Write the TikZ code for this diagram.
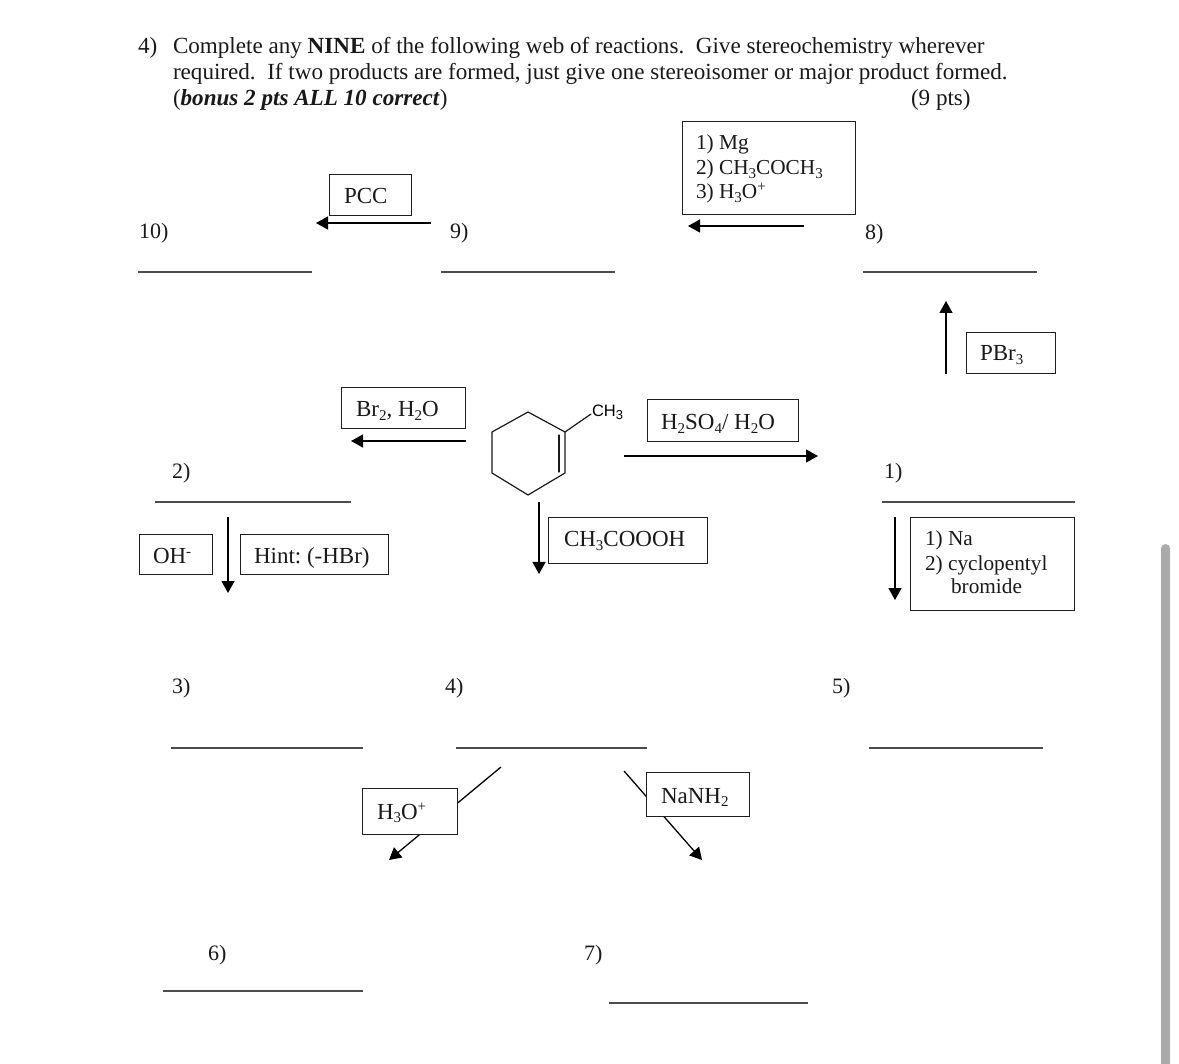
\documentclass[tikz,border=0pt]{standalone}
\usepackage{fontspec}
\setmainfont{Liberation Serif}
\newfontfamily\arialf{Liberation Sans}
\usetikzlibrary{arrows.meta}
\newcommand{\sbs}[1]{\raisebox{-3.5pt}{\fontsize{15}{15}\selectfont #1}}
\newcommand{\sps}[1]{\raisebox{7.5pt}{\fontsize{15}{15}\selectfont #1}}
\tikzset{
  x=1pt,y=-1pt,
  txt/.style={anchor=base west,inner sep=0pt,outer sep=0pt,font=\fontsize{23.1}{26}\selectfont\frenchspacing,text=black!90},
  rtxt/.style={txt,font=\fontsize{23}{24}\selectfont\frenchspacing},
  mtxt/.style={txt,font=\fontsize{21.3}{24}\selectfont\frenchspacing},
  ntxt/.style={txt,font=\fontsize{22}{24}\selectfont\frenchspacing},
  ans/.style={draw=black!70,line width=1.2pt},
  box/.style={draw=black!88,line width=1.2pt,fill=white,inner sep=0pt,outer sep=0pt,anchor=north west},
  arr/.style={draw=black,line width=1.3pt,-{Triangle[length=12pt,width=13pt]}},
  bond/.style={draw=black!90,line width=1.2pt,line cap=round,line join=round},
}
\begin{document}
\begin{tikzpicture}
\useasboundingbox (0,0) rectangle (1179,1064);
% scrollbar
\fill[black!33,rounded corners=4.5pt] (1161,1075) rectangle (1170,544);
% heading
\node[txt] (hA) at (138,54) {4)};
\node[txt] (hB) at (173,54) {Complete any \textbf{NINE} of the following web of reactions.\ \ Give stereochemistry wherever};
\node[txt] (hC) at (173,80) {required.\ \ If two products are formed, just give one stereoisomer or major product formed.};
\node[txt] (hD) at (173,106) {(\textbf{\textit{bonus 2 pts ALL 10 correct}})};
\node[txt] (hE) at (911,106) {(9 pts)};
% arrows (behind boxes)
\coordinate (a1s) at (431,223); \coordinate (a1e) at (316,223);
\coordinate (a2s) at (804,226); \coordinate (a2e) at (688,226);
\coordinate (a3s) at (946,374); \coordinate (a3e) at (946,301);
\coordinate (a4s) at (466,441); \coordinate (a4e) at (351,441);
\coordinate (a5s) at (624,456); \coordinate (a5e) at (818,456);
\coordinate (a6s) at (539,502); \coordinate (a6e) at (539,574);
\coordinate (a7s) at (228,517); \coordinate (a7e) at (228,593);
\coordinate (a8s) at (895,517); \coordinate (a8e) at (895,600);
\coordinate (a9s) at (501,767); \coordinate (a9e) at (389,860);
\coordinate (a10s) at (624,771); \coordinate (a10e) at (702,860);
\foreach \i in {1,...,10} {\draw[arr] (a\i s) -- (a\i e);}
% reagent boxes
\node[box,minimum width=82pt,minimum height=41pt] (pcc) at (329.5,174.5) {};
\node[rtxt] (pcct) at (344,204) {PCC};
\node[box,minimum width=173pt,minimum height=93pt] (mg) at (682.5,121.5) {};
\node[mtxt] (mg1) at (696,150) {1) Mg};
\node[mtxt] (mg2) at (696,175) {2) CH\sbs{3}COCH\sbs{3}};
\node[mtxt] (mg3) at (696,199) {3) H\sbs{3}O\sps{+}};
\node[box,minimum width=89pt,minimum height=41pt] (pbr) at (966.5,332.5) {};
\node[rtxt] (pbrt) at (980,361) {PBr\sbs{3}};
\node[box,minimum width=124pt,minimum height=41pt] (br) at (341.5,387.5) {};
\node[rtxt] (brt) at (356,417) {Br\sbs{2}, H\sbs{2}O};
\node[box,minimum width=151pt,minimum height=42pt] (hso) at (647.5,399.5) {};
\node[rtxt] (hsot) at (661,430) {H\sbs{2}SO\sbs{4}/ H\sbs{2}O};
\node[box,minimum width=159pt,minimum height=46pt] (per) at (548.5,517.5) {};
\node[rtxt] (pert) at (564,547) {CH\sbs{3}COOOH};
\node[box,minimum width=73pt,minimum height=40pt] (oh) at (139.5,534.5) {};
\node[rtxt] (oht) at (153,564) {OH\sps{-}};
\node[box,minimum width=148pt,minimum height=40pt] (hint) at (240.5,534.5) {};
\node[rtxt] (hintt) at (254,564) {Hint: (-HBr)};
\node[box,minimum width=164pt,minimum height=93pt] (na) at (910.5,517.5) {};
\node[mtxt] (na1) at (925,546) {1) Na};
\node[mtxt] (na2) at (925,570) {2) cyclopentyl};
\node[mtxt] (na3) at (951,594) {bromide};
\node[box,minimum width=95pt,minimum height=46pt] (hyd) at (362.5,788.5) {};
\node[rtxt] (hydt) at (377,819) {H\sbs{3}O\sps{+}};
\node[box,minimum width=103pt,minimum height=44pt] (nanh) at (646.5,772.5) {};
\node[rtxt] (nanht) at (661,803) {NaNH\sbs{2}};
% ring
\coordinate (r1) at (528,412); \coordinate (r2) at (565,432); \coordinate (r3) at (565,473);
\coordinate (r4) at (528,495); \coordinate (r5) at (492,473); \coordinate (r6) at (492,432);
\coordinate (d1) at (559,435); \coordinate (d2) at (559,472);
\draw[bond] (r1)--(r2)--(r3)--(r4)--(r5)--(r6)--cycle;
\draw[bond] (d1)--(d2);
\node[anchor=base west,inner sep=0pt,outer sep=0pt,font=\arialf\fontsize{16.5}{16}\selectfont] (ch3) at (592,417) {CH\raisebox{-3pt}{\fontsize{13}{13}\selectfont 3}};
\coordinate (ch3b) at (591,414);
\draw[bond] (r2)--(ch3b);
% numbered blanks
\node[ntxt] (n10) at (139,239) {10)};
\node[ntxt] (n9) at (450,239) {9)};
\node[ntxt] (n8) at (865,240) {8)};
\node[ntxt] (n2) at (172,479) {2)};
\node[ntxt] (n1) at (884,479) {1)};
\node[ntxt] (n3) at (172,693) {3)};
\node[ntxt] (n4) at (445,693) {4)};
\node[ntxt] (n5) at (832,693) {5)};
\node[ntxt] (n6) at (208,960) {6)};
\node[ntxt] (n7) at (584,960) {7)};
\draw[ans] (138,272)--(312,272);
\draw[ans] (441,272)--(615,272);
\draw[ans] (863,272)--(1037,272);
\draw[ans] (155,502)--(351,502);
\draw[ans] (882,502)--(1075,502);
\draw[ans] (171,748)--(363,748);
\draw[ans] (456,748)--(647,748);
\draw[ans] (869,748)--(1043,748);
\draw[ans] (163,991)--(363,991);
\draw[ans] (609,1003)--(808,1003);
\end{tikzpicture}
\end{document}
